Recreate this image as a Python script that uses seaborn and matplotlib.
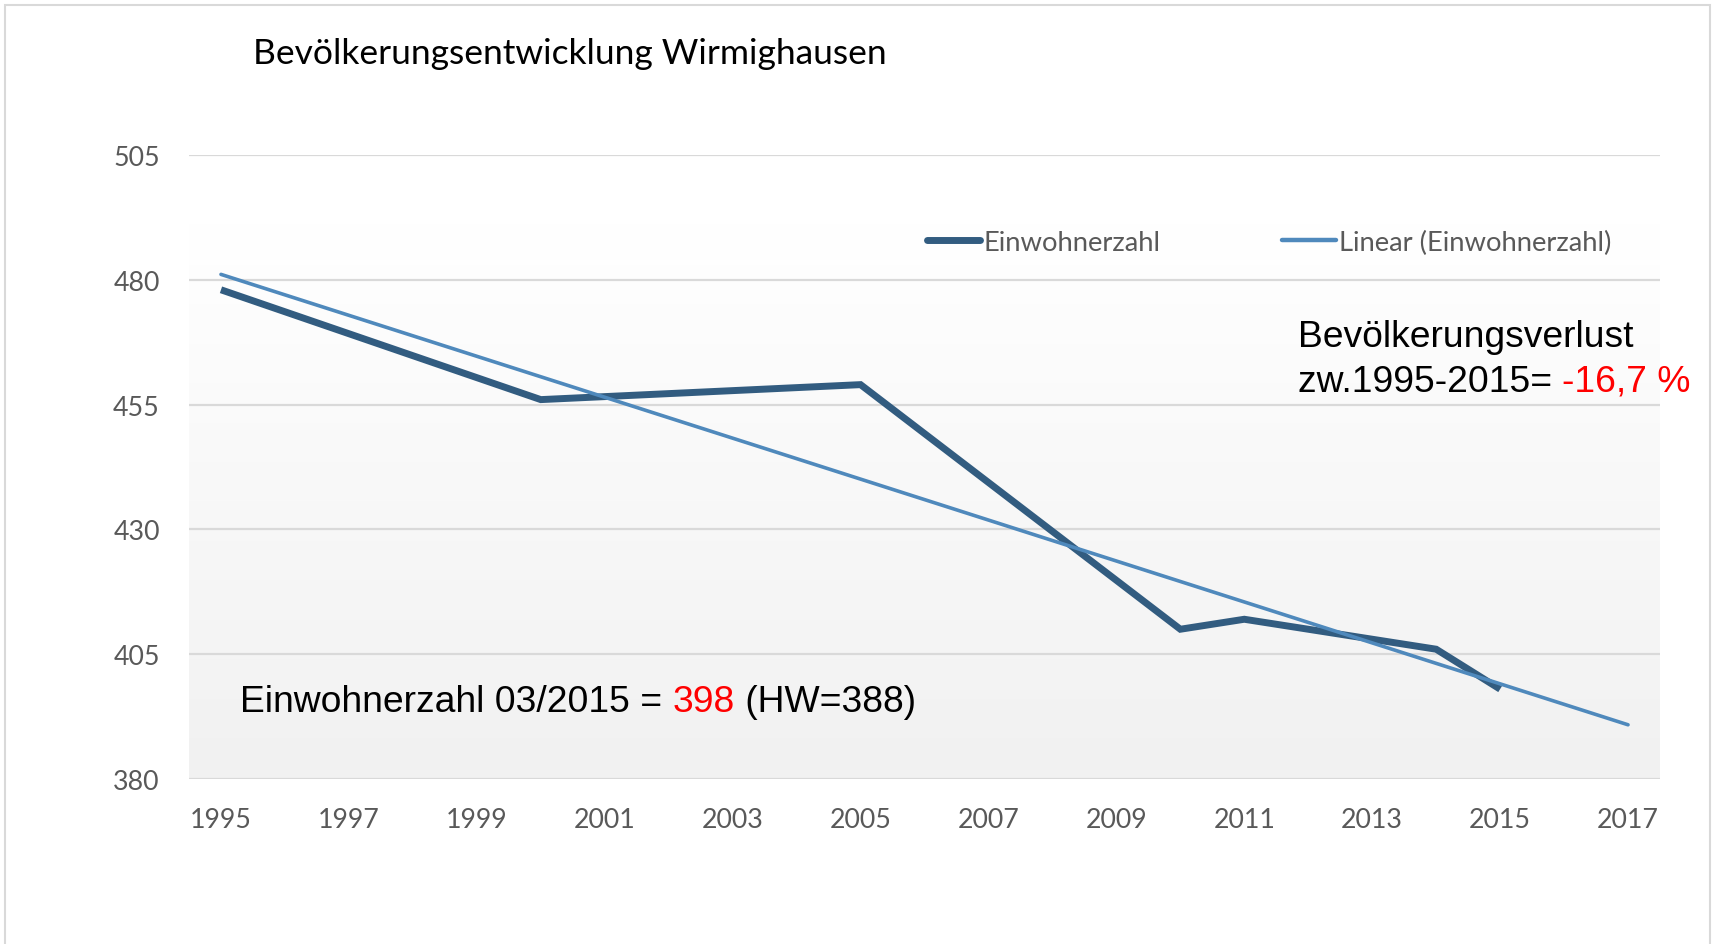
import numpy as np
import matplotlib
matplotlib.use("Agg")
import matplotlib.pyplot as plt
import seaborn as sns
from matplotlib.patches import Rectangle
from matplotlib.lines import Line2D
from matplotlib.colors import LinearSegmentedColormap

# ---------------- data ----------------
years = [1995, 2000, 2005, 2010, 2011, 2014, 2015]
einwohner = [478, 456, 459, 410, 412, 406, 398]
trend_years = [1995, 2017]
x_ticks = list(range(1995, 2018, 2))
y_ticks = [380, 405, 430, 455, 480, 505]
title = "Bevölkerungsentwicklung Wirmighausen"
series_name = "Einwohnerzahl"
trend_name = "Linear (Einwohnerzahl)"

# ---------------- style ----------------
sns.set_theme(style="white")
plt.rcParams["font.family"] = ["Lato", "DejaVu Sans"]
ARIAL = ["Liberation Sans", "DejaVu Sans"]
C_DATA = "#325c80"
C_TREND = "#4f89bc"
C_GRID = "#d9d9d9"
C_TXT = "#595959"

W, H = 1721, 945
fig = plt.figure(figsize=(W / 100, H / 100), dpi=100)
fig.patch.set_facecolor("white")
L, R, T, B = 189, 1660, 156, 780
ax = fig.add_axes([L / W, 1 - B / H, (R - L) / W, (B - T) / H])
ax.set_facecolor("white")

# gradient plot-area fill
grad = np.linspace(0, 1, 256).reshape(-1, 1)
cmap = LinearSegmentedColormap.from_list("g", ["#ffffff", "#f1f1f1"])
ax.imshow(grad, cmap=cmap, extent=[0, 1, 0, 0.889], transform=ax.transAxes,
          aspect="auto", zorder=0, interpolation="bicubic")

# data line
sns.lineplot(x=years, y=einwohner, color=C_DATA, lw=5.0, ax=ax, zorder=3,
             solid_capstyle="butt", solid_joinstyle="miter", legend=False)
# linear trend
coef = np.polyfit(years, einwohner, 1)
trend_vals = np.polyval(coef, trend_years)
sns.lineplot(x=trend_years, y=trend_vals, color=C_TREND, lw=2.6, ax=ax, zorder=4,
             solid_capstyle="round", legend=False)

ax.set_xlim(1994.5, 2017.5)
ax.set_ylim(380, 505)
ax.set_xticks(x_ticks)
ax.set_yticks(y_ticks)
ax.set_xticklabels([str(v) for v in x_ticks])
ax.set_yticklabels([str(v) for v in y_ticks])
ax.set_xlabel("")
ax.set_ylabel("")
ax.grid(axis="y", color=C_GRID, lw=1.6, zorder=1)
ax.grid(axis="x", visible=False)
ax.set_axisbelow(True)
for s in ax.spines.values():
    s.set_visible(False)
ax.tick_params(axis="both", length=0, labelsize=19.3, labelcolor=C_TXT)
ax.tick_params(axis="x", pad=20)
ax.tick_params(axis="y", pad=21)

# outer border
fig.patches.append(Rectangle((5 / W, -0.1), (1710 - 5) / W, 1.1 - 6 / H,
                             transform=fig.transFigure, fill=False,
                             edgecolor=C_GRID, lw=1.5))

# title
fig.text(253 / W, 1 - 64 / H, title, fontsize=25.5, color="black",
         ha="left", va="baseline")

# legend
handles = [Line2D([], [], color=C_DATA, lw=5.0, solid_capstyle="round"),
           Line2D([], [], color=C_TREND, lw=3.2, solid_capstyle="round")]
fig.legend(handles, [series_name, trend_name], loc="center left",
           bbox_to_anchor=(927 / W, 1 - 243 / H), ncol=2, frameon=False,
           fontsize=19.7, labelcolor=C_TXT, handlelength=1.95,
           handletextpad=0.12, columnspacing=4.45, borderpad=0,
           borderaxespad=0)

# annotations (multi-coloured text)
fig.canvas.draw()
renderer = fig.canvas.get_renderer()


def rich(x_px, y_px, parts, size=26.8):
    x = x_px / W
    for s, c in parts:
        t = fig.text(x, 1 - y_px / H, s, color=c, fontsize=size, family=ARIAL,
                     ha="left", va="baseline")
        bb = t.get_window_extent(renderer=renderer)
        x = bb.x1 / W


rich(1298, 347, [("Bevölkerungsverlust", "black")])
rich(1298, 392, [("zw.1995-2015= ", "black"), ("-16,7 %", "#ff0000")])
rich(240, 712, [("Einwohnerzahl 03/2015 = ", "black"), ("398", "#ff0000"),
                (" (HW=388)", "black")])

fig.savefig("out.png", dpi=100)
